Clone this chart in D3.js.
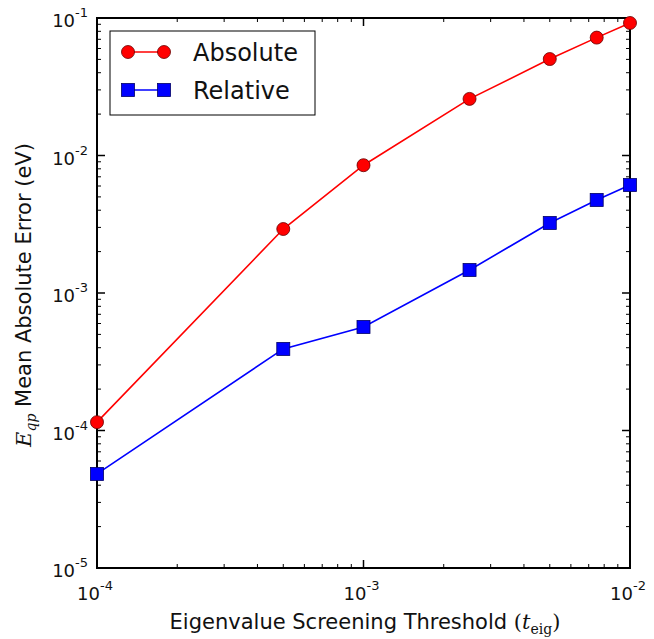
<!DOCTYPE html>
<html><head><meta charset="utf-8">
<script src="https://cdn.jsdelivr.net/npm/d3@7"></script>
<style>body{margin:0;background:#fff}svg{display:block}</style>
</head><body>
<script>
const thresholds = [1e-4, 5e-4, 1e-3, 2.5e-3, 5e-3, 7.5e-3, 1e-2];
const absoluteErr = [1.15e-4, 2.92e-3, 8.5e-3, 2.58e-2, 5.03e-2, 7.2e-2, 9.2e-2];
const relativeErr = [4.83e-5, 3.92e-4, 5.66e-4, 1.47e-3, 3.23e-3, 4.75e-3, 6.1e-3];
const xTickExps = [-4, -3, -2];
const yTickExps = [-5, -4, -3, -2, -1];
const seriesNames = ["Absolute", "Relative"];

const W = 654, H = 639;
const L = 97, R = 630, T = 18, B = 568;
const svg = d3.select("body").append("svg").attr("width", W).attr("height", H);
const x = d3.scaleLog().domain([1e-4, 1e-2]).range([L, R]);
const y = d3.scaleLog().domain([1e-5, 1e-1]).range([B, T]);
const font = "DejaVu Sans, sans-serif";
const serif = "DejaVu Serif, serif";

// minor ticks
const minorX = [], minorY = [];
for (let e = -4; e < -2; e++) for (let m = 2; m <= 9; m++) minorX.push(m * Math.pow(10, e));
for (let e = -5; e < -1; e++) for (let m = 2; m <= 9; m++) minorY.push(m * Math.pow(10, e));
const majX = xTickExps.map(e => Math.pow(10, e)), majY = yTickExps.map(e => Math.pow(10, e));
const tg = svg.append("g").attr("stroke", "#000");
minorX.forEach(v => { tg.append("line").attr("x1", x(v)).attr("x2", x(v)).attr("y1", B).attr("y2", B - 4).attr("stroke-width", 1);
  tg.append("line").attr("x1", x(v)).attr("x2", x(v)).attr("y1", T).attr("y2", T + 4).attr("stroke-width", 1); });
majX.forEach(v => { tg.append("line").attr("x1", x(v)).attr("x2", x(v)).attr("y1", B).attr("y2", B - 8).attr("stroke-width", 1.5);
  tg.append("line").attr("x1", x(v)).attr("x2", x(v)).attr("y1", T).attr("y2", T + 8).attr("stroke-width", 1.5); });
minorY.forEach(v => { tg.append("line").attr("y1", y(v)).attr("y2", y(v)).attr("x1", L).attr("x2", L + 4).attr("stroke-width", 1);
  tg.append("line").attr("y1", y(v)).attr("y2", y(v)).attr("x1", R).attr("x2", R - 4).attr("stroke-width", 1); });
majY.forEach(v => { tg.append("line").attr("y1", y(v)).attr("y2", y(v)).attr("x1", L).attr("x2", L + 8).attr("stroke-width", 1.5);
  tg.append("line").attr("y1", y(v)).attr("y2", y(v)).attr("x1", R).attr("x2", R - 8).attr("stroke-width", 1.5); });

// frame
svg.append("rect").attr("x", L).attr("y", T).attr("width", R - L).attr("height", B - T)
  .attr("fill", "none").attr("stroke", "#000").attr("stroke-width", 2);

// tick labels
xTickExps.forEach(e => {
  const t = svg.append("text").attr("x", x(Math.pow(10, e)) - 2).attr("y", 600).attr("text-anchor", "middle")
    .attr("font-family", font).attr("font-size", 18).attr("fill", "#111");
  t.append("tspan").text("10");
  t.append("tspan").attr("dy", -10).attr("font-size", 13).text("-" + (-e));
});
yTickExps.forEach(e => {
  const t = svg.append("text").attr("x", 88).attr("y", y(Math.pow(10, e)) + 9).attr("text-anchor", "end")
    .attr("font-family", font).attr("font-size", 18).attr("fill", "#111");
  t.append("tspan").text("10");
  t.append("tspan").attr("dy", -10).attr("font-size", 13).text("-" + (-e));
});

// axis labels
const xl = svg.append("text").attr("x", 365).attr("y", 629).attr("text-anchor", "middle")
  .attr("font-family", font).attr("font-size", 21).attr("fill", "#111");
xl.append("tspan").text("Eigenvalue Screening Threshold ");
xl.append("tspan").attr("font-family", serif).text("(");
xl.append("tspan").attr("font-family", serif).attr("font-style", "italic").text("t");
xl.append("tspan").attr("font-family", serif).attr("font-size", 14).attr("dy", 5).text("eig");
xl.append("tspan").attr("font-family", serif).attr("dy", -5).text(")");

const yl = svg.append("text").attr("transform", `translate(31,${(T + B) / 2 + 2}) rotate(-90)`).attr("text-anchor", "middle")
  .attr("font-family", font).attr("font-size", 21).attr("fill", "#111");
yl.append("tspan").attr("font-family", serif).attr("font-style", "italic").text("E");
yl.append("tspan").attr("font-family", serif).attr("font-style", "italic").attr("font-size", 14).attr("dy", 5).text("qp");
yl.append("tspan").attr("dy", -5).text(" Mean Absolute Error (eV)");

// series
const line = d3.line().x(d => x(d[0])).y(d => y(d[1]));
const absData = thresholds.map((t, i) => [t, absoluteErr[i]]);
const relData = thresholds.map((t, i) => [t, relativeErr[i]]);
const plot = svg.append("g");
plot.append("path").datum(absData).attr("d", line).attr("fill", "none").attr("stroke", "#ff0000").attr("stroke-width", 1.6);
plot.append("path").datum(relData).attr("d", line).attr("fill", "none").attr("stroke", "#0000ff").attr("stroke-width", 1.6);
plot.selectAll("circle.a").data(absData).enter().append("circle")
  .attr("cx", d => x(d[0])).attr("cy", d => y(d[1])).attr("r", 6.5)
  .attr("fill", "#ff0000").attr("stroke", "#660000").attr("stroke-width", 0.8);
plot.selectAll("rect.r").data(relData).enter().append("rect")
  .attr("x", d => x(d[0]) - 6.5).attr("y", d => y(d[1]) - 6.5).attr("width", 13).attr("height", 13)
  .attr("fill", "#0000ff").attr("stroke", "#000066").attr("stroke-width", 0.8);

// legend
const lg = svg.append("g");
lg.append("rect").attr("x", 110).attr("y", 31).attr("width", 205).attr("height", 84)
  .attr("fill", "#fff").attr("stroke", "#000").attr("stroke-width", 1);
const ly = [52, 90];
lg.append("line").attr("x1", 128).attr("x2", 164).attr("y1", ly[0]).attr("y2", ly[0]).attr("stroke", "#ff0000").attr("stroke-width", 1.6);
[128, 164].forEach(cx => lg.append("circle").attr("cx", cx).attr("cy", ly[0]).attr("r", 6.5)
  .attr("fill", "#ff0000").attr("stroke", "#660000").attr("stroke-width", 0.8));
lg.append("line").attr("x1", 128).attr("x2", 164).attr("y1", ly[1]).attr("y2", ly[1]).attr("stroke", "#0000ff").attr("stroke-width", 1.6);
[128, 164].forEach(cx => lg.append("rect").attr("x", cx - 6.5).attr("y", ly[1] - 6.5).attr("width", 13).attr("height", 13)
  .attr("fill", "#0000ff").attr("stroke", "#000066").attr("stroke-width", 0.8));
seriesNames.forEach((n, i) => lg.append("text").attr("x", 193).attr("y", ly[i] + 9).attr("font-family", font)
  .attr("font-size", 24).attr("fill", "#111").text(n));
</script>
</body></html>
